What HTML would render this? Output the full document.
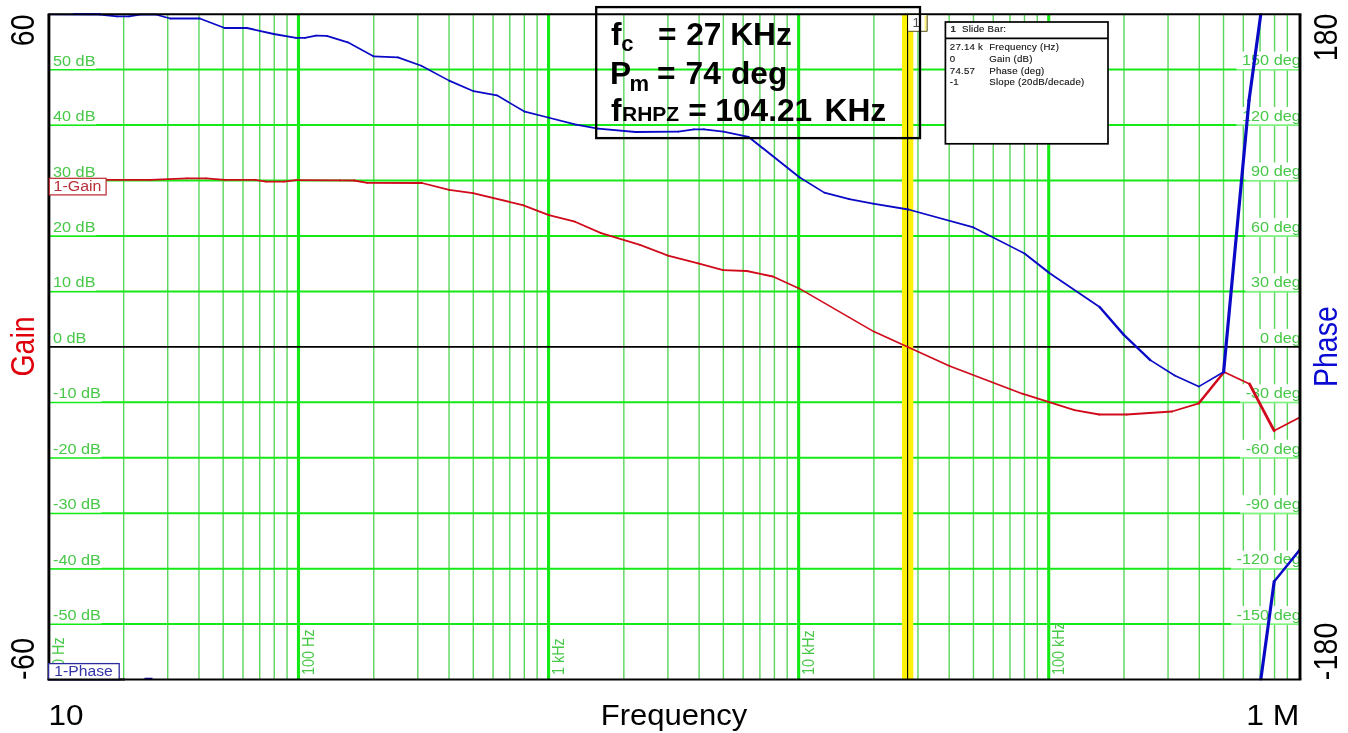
<!DOCTYPE html>
<html lang="en"><head><meta charset="utf-8"><title>Bode plot - Gain / Phase vs Frequency</title>
<style>html,body{margin:0;padding:0;background:#fff;}body{width:1348px;height:733px;overflow:hidden;}svg{display:block;}text{font-family:'Liberation Sans', sans-serif;}</style></head><body>
<svg width="1348" height="733" viewBox="0 0 1348 733">
<rect x="0" y="0" width="1348" height="733" fill="#ffffff"/>
<g id="grid">
<path d="M123.68 14.2V679.6M167.72 14.2V679.6M198.96 14.2V679.6M223.20 14.2V679.6M243.00 14.2V679.6M259.74 14.2V679.6M274.24 14.2V679.6M287.04 14.2V679.6M373.76 14.2V679.6M417.80 14.2V679.6M449.04 14.2V679.6M473.28 14.2V679.6M493.08 14.2V679.6M509.82 14.2V679.6M524.32 14.2V679.6M537.12 14.2V679.6M623.84 14.2V679.6M667.88 14.2V679.6M699.12 14.2V679.6M723.36 14.2V679.6M743.16 14.2V679.6M759.90 14.2V679.6M774.40 14.2V679.6M787.20 14.2V679.6M873.92 14.2V679.6M917.96 14.2V679.6M949.20 14.2V679.6M973.44 14.2V679.6M993.24 14.2V679.6M1009.98 14.2V679.6M1024.48 14.2V679.6M1037.28 14.2V679.6M1124.00 14.2V679.6M1168.04 14.2V679.6M1199.28 14.2V679.6M1223.52 14.2V679.6M1243.32 14.2V679.6M1260.06 14.2V679.6M1274.56 14.2V679.6M1287.36 14.2V679.6" stroke="#5ad65a" stroke-width="1.4" fill="none"/>
<path d="M298.48 14.2V679.6M548.56 14.2V679.6M798.64 14.2V679.6M1048.72 14.2V679.6" stroke="#16ea16" stroke-width="3.1" fill="none"/>
<path d="M49.0 624.12H1300.0M49.0 568.67H1300.0M49.0 513.21H1300.0M49.0 457.76H1300.0M49.0 402.30H1300.0M49.0 291.40H1300.0M49.0 235.94H1300.0M49.0 180.49H1300.0M49.0 125.03H1300.0M49.0 69.58H1300.0" stroke="#16ea16" stroke-width="2" fill="none"/>
</g>
<g id="ticklabels" font-size="14.4" fill="#48c848">
<rect x="50.0" y="606.1" width="51.6" height="17.4" fill="#fff"/>
<text transform="translate(53.0 620.1) scale(1.130 1)">-50 dB</text>
<rect x="50.0" y="550.7" width="51.6" height="17.4" fill="#fff"/>
<text transform="translate(53.0 564.7) scale(1.130 1)">-40 dB</text>
<rect x="50.0" y="495.2" width="51.6" height="17.4" fill="#fff"/>
<text transform="translate(53.0 509.2) scale(1.130 1)">-30 dB</text>
<rect x="50.0" y="439.8" width="51.6" height="17.4" fill="#fff"/>
<text transform="translate(53.0 453.8) scale(1.130 1)">-20 dB</text>
<rect x="50.0" y="384.3" width="51.6" height="17.4" fill="#fff"/>
<text transform="translate(53.0 398.3) scale(1.130 1)">-10 dB</text>
<rect x="50.0" y="328.9" width="37.2" height="17.4" fill="#fff"/>
<text transform="translate(53.0 342.9) scale(1.130 1)">0 dB</text>
<rect x="50.0" y="273.4" width="46.2" height="17.4" fill="#fff"/>
<text transform="translate(53.0 287.4) scale(1.130 1)">10 dB</text>
<rect x="50.0" y="217.9" width="46.2" height="17.4" fill="#fff"/>
<text transform="translate(53.0 231.9) scale(1.130 1)">20 dB</text>
<rect x="50.0" y="162.5" width="46.2" height="17.4" fill="#fff"/>
<text transform="translate(53.0 176.5) scale(1.130 1)">30 dB</text>
<rect x="50.0" y="107.0" width="46.2" height="17.4" fill="#fff"/>
<text transform="translate(53.0 121.0) scale(1.130 1)">40 dB</text>
<rect x="50.0" y="51.6" width="46.2" height="17.4" fill="#fff"/>
<text transform="translate(53.0 65.6) scale(1.130 1)">50 dB</text>
<rect x="1231.0" y="606.1" width="69.2" height="17.4" fill="#fff"/>
<rect x="1231.0" y="623.4" width="69.2" height="1.8" fill="#fff" fill-opacity="0.45"/>
<text text-anchor="end" transform="translate(1300.8 619.8) scale(1.130 1)">-150 deg</text>
<rect x="1231.0" y="550.7" width="69.2" height="17.4" fill="#fff"/>
<rect x="1231.0" y="568.0" width="69.2" height="1.8" fill="#fff" fill-opacity="0.45"/>
<text text-anchor="end" transform="translate(1300.8 564.4) scale(1.130 1)">-120 deg</text>
<rect x="1240.0" y="495.2" width="60.2" height="17.4" fill="#fff"/>
<rect x="1240.0" y="512.5" width="60.2" height="1.8" fill="#fff" fill-opacity="0.45"/>
<text text-anchor="end" transform="translate(1300.8 508.9) scale(1.130 1)">-90 deg</text>
<rect x="1240.0" y="439.8" width="60.2" height="17.4" fill="#fff"/>
<rect x="1240.0" y="457.1" width="60.2" height="1.8" fill="#fff" fill-opacity="0.45"/>
<text text-anchor="end" transform="translate(1300.8 453.5) scale(1.130 1)">-60 deg</text>
<rect x="1240.0" y="384.3" width="60.2" height="17.4" fill="#fff"/>
<rect x="1240.0" y="401.6" width="60.2" height="1.8" fill="#fff" fill-opacity="0.45"/>
<text text-anchor="end" transform="translate(1300.8 398.0) scale(1.130 1)">-30 deg</text>
<rect x="1254.5" y="328.9" width="45.7" height="17.4" fill="#fff"/>
<rect x="1254.5" y="346.2" width="45.7" height="1.8" fill="#fff" fill-opacity="0.45"/>
<text text-anchor="end" transform="translate(1300.8 342.6) scale(1.130 1)">0 deg</text>
<rect x="1245.4" y="273.4" width="54.8" height="17.4" fill="#fff"/>
<rect x="1245.4" y="290.7" width="54.8" height="1.8" fill="#fff" fill-opacity="0.45"/>
<text text-anchor="end" transform="translate(1300.8 287.1) scale(1.130 1)">30 deg</text>
<rect x="1245.4" y="217.9" width="54.8" height="17.4" fill="#fff"/>
<rect x="1245.4" y="235.2" width="54.8" height="1.8" fill="#fff" fill-opacity="0.45"/>
<text text-anchor="end" transform="translate(1300.8 231.6) scale(1.130 1)">60 deg</text>
<rect x="1245.4" y="162.5" width="54.8" height="17.4" fill="#fff"/>
<rect x="1245.4" y="179.8" width="54.8" height="1.8" fill="#fff" fill-opacity="0.45"/>
<text text-anchor="end" transform="translate(1300.8 176.2) scale(1.130 1)">90 deg</text>
<rect x="1236.4" y="107.0" width="63.8" height="17.4" fill="#fff"/>
<rect x="1236.4" y="124.3" width="63.8" height="1.8" fill="#fff" fill-opacity="0.45"/>
<text text-anchor="end" transform="translate(1300.8 120.7) scale(1.130 1)">120 deg</text>
<rect x="1236.4" y="51.6" width="63.8" height="17.4" fill="#fff"/>
<rect x="1236.4" y="68.9" width="63.8" height="1.8" fill="#fff" fill-opacity="0.45"/>
<text text-anchor="end" transform="translate(1300.8 65.3) scale(1.130 1)">150 deg</text>
<text transform="translate(64.1 675.0) scale(1.130 1) rotate(-90)">10 Hz</text>
<text transform="translate(314.2 675.0) scale(1.130 1) rotate(-90)">100 Hz</text>
<text transform="translate(564.3 675.0) scale(1.130 1) rotate(-90)">1 kHz</text>
<text transform="translate(814.3 675.0) scale(1.130 1) rotate(-90)">10 kHz</text>
<text transform="translate(1064.4 675.0) scale(1.130 1) rotate(-90)">100 kHz</text>
</g>
<path d="M49.0 346.85H1300.0" stroke="#000" stroke-width="1.7" fill="none"/>
<g id="slidebar">
<rect x="902" y="14.2" width="11.3" height="665.5" fill="#fff20a"/>
<path d="M907.6 14.2V679.6" stroke="#000" stroke-width="1.1" fill="none"/>
</g>
<clipPath id="plotclip"><rect x="49.0" y="13.6" width="1251.0" height="666.7"/></clipPath>
<g id="curves" clip-path="url(#plotclip)">
<g stroke="#d00a1a" stroke-linecap="round" fill="none"><line x1="49.0" y1="179.9" x2="150.0" y2="179.9" stroke-width="1.85"/><line x1="150.0" y1="179.9" x2="187.0" y2="178.3" stroke-width="1.85"/><line x1="187.0" y1="178.3" x2="206.0" y2="178.3" stroke-width="1.85"/><line x1="206.0" y1="178.3" x2="225.0" y2="179.9" stroke-width="1.84"/><line x1="225.0" y1="179.9" x2="255.0" y2="179.9" stroke-width="1.85"/><line x1="255.0" y1="179.9" x2="266.0" y2="181.6" stroke-width="1.83"/><line x1="266.0" y1="181.6" x2="284.0" y2="181.6" stroke-width="1.85"/><line x1="284.0" y1="181.6" x2="296.0" y2="180.1" stroke-width="1.84"/><line x1="296.0" y1="180.1" x2="340.0" y2="180.3" stroke-width="1.85"/><line x1="340.0" y1="180.3" x2="354.2" y2="180.5" stroke-width="1.85"/><line x1="354.2" y1="180.5" x2="367.3" y2="182.8" stroke-width="1.82"/><line x1="367.3" y1="182.8" x2="421.9" y2="183.0" stroke-width="1.85"/><line x1="421.9" y1="183.0" x2="449.2" y2="189.9" stroke-width="1.79"/><line x1="449.2" y1="189.9" x2="472.9" y2="193.2" stroke-width="1.83"/><line x1="472.9" y1="193.2" x2="522.8" y2="205.1" stroke-width="1.80"/><line x1="522.8" y1="205.1" x2="548.9" y2="215.1" stroke-width="1.73"/><line x1="548.9" y1="215.1" x2="575.0" y2="221.7" stroke-width="1.79"/><line x1="575.0" y1="221.7" x2="601.1" y2="233.1" stroke-width="1.70"/><line x1="601.1" y1="233.1" x2="640.0" y2="244.9" stroke-width="1.77"/><line x1="640.0" y1="244.9" x2="668.0" y2="255.6" stroke-width="1.73"/><line x1="668.0" y1="255.6" x2="698.2" y2="263.4" stroke-width="1.79"/><line x1="698.2" y1="263.4" x2="723.1" y2="270.1" stroke-width="1.79"/><line x1="723.1" y1="270.1" x2="746.8" y2="271.0" stroke-width="1.85"/><line x1="746.8" y1="271.0" x2="772.9" y2="276.5" stroke-width="1.81"/><line x1="772.9" y1="276.5" x2="799.1" y2="288.4" stroke-width="1.68"/><line x1="799.1" y1="288.4" x2="873.8" y2="331.6" stroke-width="1.60"/><line x1="873.8" y1="331.6" x2="907.8" y2="347.0" stroke-width="1.69"/><line x1="907.8" y1="347.0" x2="949.5" y2="366.0" stroke-width="1.68"/><line x1="949.5" y1="366.0" x2="1022.3" y2="393.7" stroke-width="1.73"/><line x1="1022.3" y1="393.7" x2="1048.4" y2="401.9" stroke-width="1.76"/><line x1="1048.4" y1="401.9" x2="1074.5" y2="410.2" stroke-width="1.76"/><line x1="1074.5" y1="410.2" x2="1099.2" y2="414.5" stroke-width="1.82"/><line x1="1099.2" y1="414.5" x2="1126.7" y2="414.5" stroke-width="1.85"/><line x1="1126.7" y1="414.5" x2="1172.0" y2="411.5" stroke-width="1.85"/><line x1="1172.0" y1="411.5" x2="1198.8" y2="403.3" stroke-width="1.77"/><line x1="1198.8" y1="403.3" x2="1224.1" y2="372.0" stroke-width="2.49"/><line x1="1224.1" y1="372.0" x2="1249.6" y2="384.1" stroke-width="1.67"/><line x1="1249.6" y1="384.1" x2="1274.1" y2="430.7" stroke-width="2.83"/><line x1="1274.1" y1="430.7" x2="1300.0" y2="417.3" stroke-width="1.64"/></g>
<g stroke="#0a0ac6" stroke-linecap="round" fill="none"><line x1="49.0" y1="14.3" x2="100.0" y2="14.5" stroke-width="1.85"/><line x1="100.0" y1="14.5" x2="116.8" y2="16.4" stroke-width="1.84"/><line x1="116.8" y1="16.4" x2="129.0" y2="16.4" stroke-width="1.85"/><line x1="129.0" y1="16.4" x2="140.0" y2="14.5" stroke-width="1.82"/><line x1="140.0" y1="14.5" x2="155.7" y2="14.5" stroke-width="1.85"/><line x1="155.7" y1="14.5" x2="170.2" y2="18.5" stroke-width="1.78"/><line x1="170.2" y1="18.5" x2="199.8" y2="18.5" stroke-width="1.85"/><line x1="199.8" y1="18.5" x2="224.7" y2="28.0" stroke-width="1.73"/><line x1="224.7" y1="28.0" x2="247.0" y2="28.0" stroke-width="1.85"/><line x1="247.0" y1="28.0" x2="273.7" y2="34.0" stroke-width="1.80"/><line x1="273.7" y1="34.0" x2="296.0" y2="37.8" stroke-width="1.82"/><line x1="296.0" y1="37.8" x2="304.9" y2="37.8" stroke-width="1.85"/><line x1="304.9" y1="37.8" x2="316.0" y2="35.6" stroke-width="1.81"/><line x1="316.0" y1="35.6" x2="326.7" y2="35.8" stroke-width="1.85"/><line x1="326.7" y1="35.8" x2="347.8" y2="42.3" stroke-width="1.77"/><line x1="347.8" y1="42.3" x2="373.4" y2="56.3" stroke-width="1.62"/><line x1="373.4" y1="56.3" x2="397.9" y2="57.4" stroke-width="1.85"/><line x1="397.9" y1="57.4" x2="421.3" y2="65.7" stroke-width="1.74"/><line x1="421.3" y1="65.7" x2="449.1" y2="80.6" stroke-width="1.63"/><line x1="449.1" y1="80.6" x2="473.6" y2="91.2" stroke-width="1.70"/><line x1="473.6" y1="91.2" x2="496.9" y2="95.3" stroke-width="1.82"/><line x1="496.9" y1="95.3" x2="524.8" y2="111.7" stroke-width="1.62"/><line x1="524.8" y1="111.7" x2="548.1" y2="117.5" stroke-width="1.80"/><line x1="548.1" y1="117.5" x2="576.0" y2="124.6" stroke-width="1.79"/><line x1="576.0" y1="124.6" x2="598.2" y2="128.6" stroke-width="1.82"/><line x1="598.2" y1="128.6" x2="635.6" y2="132.0" stroke-width="1.84"/><line x1="635.6" y1="132.0" x2="678.3" y2="131.6" stroke-width="1.85"/><line x1="678.3" y1="131.6" x2="694.0" y2="129.3" stroke-width="1.83"/><line x1="694.0" y1="129.3" x2="704.0" y2="129.3" stroke-width="1.85"/><line x1="704.0" y1="129.3" x2="723.4" y2="131.6" stroke-width="1.84"/><line x1="723.4" y1="131.6" x2="748.4" y2="136.8" stroke-width="1.81"/><line x1="748.4" y1="136.8" x2="799.4" y2="177.2" stroke-width="1.99"/><line x1="799.4" y1="177.2" x2="824.3" y2="192.6" stroke-width="1.68"/><line x1="824.3" y1="192.6" x2="849.3" y2="199.2" stroke-width="1.79"/><line x1="849.3" y1="199.2" x2="873.0" y2="203.7" stroke-width="1.82"/><line x1="873.0" y1="203.7" x2="908.4" y2="209.5" stroke-width="1.83"/><line x1="908.4" y1="209.5" x2="973.5" y2="227.4" stroke-width="1.78"/><line x1="973.5" y1="227.4" x2="1024.5" y2="253.5" stroke-width="1.65"/><line x1="1024.5" y1="253.5" x2="1048.6" y2="272.4" stroke-width="1.97"/><line x1="1048.6" y1="272.4" x2="1099.6" y2="307.0" stroke-width="1.80"/><line x1="1099.6" y1="307.0" x2="1123.6" y2="334.6" stroke-width="2.41"/><line x1="1123.6" y1="334.6" x2="1150.3" y2="360.1" stroke-width="2.21"/><line x1="1150.3" y1="360.1" x2="1174.7" y2="375.5" stroke-width="1.71"/><line x1="1174.7" y1="375.5" x2="1198.7" y2="386.6" stroke-width="1.68"/><line x1="1198.7" y1="386.6" x2="1223.6" y2="372.0" stroke-width="1.62"/><line x1="1223.6" y1="372.0" x2="1249.0" y2="100.5" stroke-width="3.19"/><line x1="1249.0" y1="100.5" x2="1274.2" y2="-84.0" stroke-width="3.17"/></g>
<g stroke="#0a0ac6" stroke-linecap="round" fill="none"><line x1="1249.0" y1="765.9" x2="1274.2" y2="581.5" stroke-width="3.17"/><line x1="1274.2" y1="581.5" x2="1300.0" y2="549.5" stroke-width="2.49"/></g>
<path d="M144.5 678.9H152.5" stroke="#0a0ac6" stroke-width="2.2"/>
</g>
<path d="M47.7 14.2H1301.4 M47.7 679.6H1301.4" stroke="#000" stroke-width="2" fill="none"/>
<path d="M48.9 14.2V679.6 M1300.0 14.2V679.6" stroke="#000" stroke-width="2.9" fill="none"/>
<path d="M73 13.6H101" stroke="#08086a" stroke-width="1.1" fill="none"/>
<g id="tags" font-size="14.5">
<rect x="49.3" y="178.3" width="56.8" height="16.6" fill="#fff" stroke="#b8262c" stroke-width="1.2"/>
<text fill="#b8303a" transform="translate(53.6 191.2) scale(1.1 1)">1-Gain</text>
<rect x="48.6" y="663.6" width="70.6" height="16.2" fill="#fff" stroke="#2a2a9c" stroke-width="1.3"/>
<text fill="#3434a8" transform="translate(54.2 675.9) scale(1.085 1)">1-Phase</text>
</g>
<path d="M47.6 679.6H125" stroke="#000" stroke-width="2" fill="none"/>
<g id="flag">
<rect x="908.2" y="15.2" width="19" height="16.2" fill="#fff"/>
<rect x="924.6" y="15.2" width="2" height="15.6" fill="#fff27a"/>
<path d="M908.2 31.3H927.2V15.2" stroke="#55501a" stroke-width="1" fill="none"/>
<text x="912.4" y="27.4" font-size="13.5" fill="#484848">1</text>
</g>
<g id="readout" font-size="8.5" fill="#111" stroke="#111" stroke-width="0.12" letter-spacing="0.2">
<rect x="945.4" y="22" width="162.6" height="121.8" fill="#fff" stroke="#000" stroke-width="1.7"/>
<path d="M945.4 38.4H1108" stroke="#000" stroke-width="1.7"/>
<text transform="translate(950.6 32) scale(1.14 1)" font-weight="bold" fill="#333">1</text>
<text transform="translate(962 32) scale(1.14 1)">Slide Bar:</text>
<text transform="translate(949.8 50.3) scale(1.14 1)">27.14 k</text>
<text transform="translate(989.2 50.3) scale(1.14 1)">Frequency (Hz)</text>
<text transform="translate(949.8 61.9) scale(1.14 1)">0</text>
<text transform="translate(989.2 61.9) scale(1.14 1)">Gain (dB)</text>
<text transform="translate(949.8 73.5) scale(1.14 1)">74.57</text>
<text transform="translate(989.2 73.5) scale(1.14 1)">Phase (deg)</text>
<text transform="translate(949.8 85.1) scale(1.14 1)">-1</text>
<text transform="translate(989.2 85.1) scale(1.14 1)">Slope (20dB/decade)</text>
</g>
<g id="annotation" font-weight="bold" fill="#000">
<rect x="596.2" y="7.1" width="323.8" height="131" fill="none" stroke="#000" stroke-width="2.3"/>
<text y="44.9" font-size="31.7"><tspan x="611">f</tspan><tspan x="621.3" dy="6.5" font-size="22">c</tspan><tspan x="658" dy="-6.5">= </tspan><tspan x="686.2">27 </tspan><tspan x="730.2">KHz</tspan></text>
<text y="83.6" font-size="31.7"><tspan x="609.9">P</tspan><tspan x="629.5" dy="7" font-size="22">m </tspan><tspan x="657" dy="-7">= </tspan><tspan x="685.6">74 </tspan><tspan x="731">deg</tspan></text>
<text y="121.4" font-size="31.7"><tspan x="611">f</tspan><tspan x="622" font-size="21">RHPZ </tspan><tspan x="688.2">= </tspan><tspan x="715.3">104.21 </tspan><tspan x="824.6">KHz</tspan></text>
</g>
<g id="captions" fill="#000">
<text font-size="29.5" transform="translate(600.8 724.7) scale(1.052 1)">Frequency</text>
<text font-size="29.5" transform="translate(48.6 724.7) scale(1.068 1)">10</text>
<text font-size="29.5" transform="translate(1246.2 724.7) scale(1.082 1)">1 M</text>
<text font-size="28.5" transform="translate(33.8 46.2) scale(1.16 1) rotate(-90)">60</text>
<text font-size="28.5" transform="translate(33.8 680) scale(1.16 1) rotate(-90)" letter-spacing="0.4">-60</text>
<text font-size="28.5" fill="#e0000c" transform="translate(33.8 376.6) scale(1.16 1) rotate(-90)">Gain</text>
<text font-size="28.5" transform="translate(1337.4 61.2) scale(1.16 1) rotate(-90)">180</text>
<text font-size="28.5" transform="translate(1337.4 680.2) scale(1.16 1) rotate(-90)" letter-spacing="0.2">-180</text>
<text font-size="28.5" fill="#0a0ad2" transform="translate(1337.4 387) scale(1.16 1) rotate(-90)">Phase</text>
</g>
</svg></body></html>
